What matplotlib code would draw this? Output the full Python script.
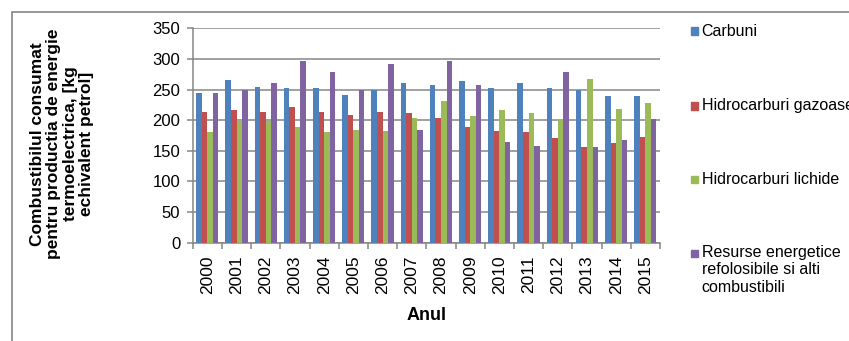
import numpy as np
import matplotlib.pyplot as plt
from matplotlib.patches import Rectangle

plt.rcParams['font.family'] = ['Liberation Sans', 'DejaVu Sans']

years = [str(y) for y in range(2000, 2016)]
carbuni = [244, 265, 254, 252, 253, 241, 250, 260, 258, 264, 252, 261, 252, 250, 239, 240]
gazoase = [214, 216, 213, 222, 214, 208, 214, 211, 204, 189, 182, 180, 171, 157, 162, 172]
lichide = [180, 199, 199, 189, 181, 184, 182, 203, 232, 207, 216, 211, 202, 267, 218, 228]
resurse = [245, 250, 260, 296, 279, 250, 291, 184, 296, 257, 165, 158, 278, 157, 167, 202]

series = [
    ("Carbuni", carbuni, "#4F81BD"),
    ("Hidrocarburi gazoase", gazoase, "#C0504D"),
    ("Hidrocarburi lichide", lichide, "#9BBB59"),
    ("Resurse energetice\nrefolosibile si alti\ncombustibili", resurse, "#8064A2"),
]

W, H = 849, 341
fig = plt.figure(figsize=(W / 100, H / 100), dpi=100)
ax = fig.add_axes([192.7 / W, 1 - 242.7 / H, (660 - 192.7) / W, (242.7 - 28.3) / H])

grey = "#868686"
x = np.arange(len(years))
bw = 0.19
for i, (name, vals, col) in enumerate(series):
    ax.bar(x + (i - 1.5) * bw, vals, width=bw, color=col, zorder=3)

ax.set_xlim(-0.5, len(years) - 0.5)
ax.set_ylim(0, 350)
ax.set_yticks(range(0, 351, 50))
ax.yaxis.grid(True, color=grey, linewidth=1.1, zorder=0)
ax.set_xticks(x)
ax.set_xticklabels(years, rotation=90, fontsize=12.5)
ax.set_xticks(np.arange(-0.5, len(years)), minor=True)
ax.tick_params(axis='x', which='major', length=0, pad=9)
ax.tick_params(axis='x', which='minor', length=4, width=1.1, color=grey)
ax.tick_params(axis='y', length=4, width=1.1, color=grey, labelsize=12, pad=5)
for s in ("top", "right"):
    ax.spines[s].set_visible(False)
for s in ("left", "bottom"):
    ax.spines[s].set_color(grey)
    ax.spines[s].set_linewidth(1.1)

fig.text(426.7 / W, 1 - 316 / H, "Anul", fontsize=13, fontweight='bold',
         ha='center', va='center')
fig.text(62 / W, 1 - 144 / H,
         "Combustibilul consumat\npentru productia de energie\ntermoelectrica, [kg\nechivalent petrol]",
         rotation=90, fontsize=12.5, fontweight='bold', ha='center', va='center',
         multialignment='center', linespacing=1.12)

# legend drawn by hand on the right side
leg_y = [31, 106, 179.3, 253.3]
for (name, vals, col), yc in zip(series, leg_y):
    fig.patches.append(Rectangle((690.7 / W, 1 - (yc + 3.8) / H), 7.6 / W, 7.6 / H,
                                 transform=fig.transFigure, color=col))
    if "\n" in name:
        fig.text(701.7 / W, 1 - (yc - 8.5) / H, name, fontsize=11.5, ha='left', va='top',
                 linespacing=1.2)
    else:
        fig.text(701.7 / W, 1 - yc / H, name, fontsize=11.5, ha='left', va='center')

# outer chart border
fig.patches.append(Rectangle((12 / W, -0.2), 1.2, 1 - 12 / H + 0.2, transform=fig.transFigure,
                             fill=False, edgecolor=grey, linewidth=1.2))

fig.savefig("out.png", dpi=100)
